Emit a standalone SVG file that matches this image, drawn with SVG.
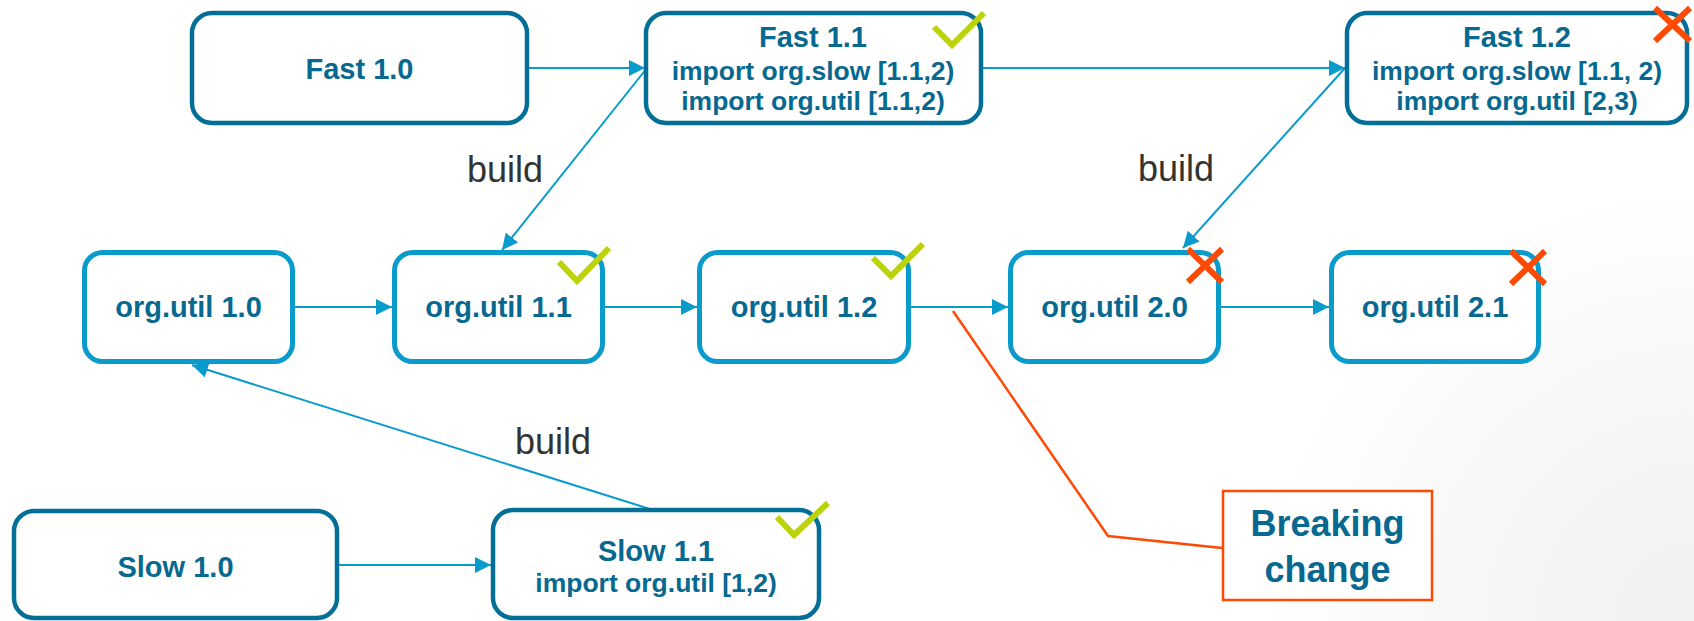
<svg xmlns="http://www.w3.org/2000/svg" width="1694" height="621" viewBox="0 0 1694 621">
  <defs>
    <radialGradient id="cornerShade" cx="1694" cy="621" r="440" gradientUnits="userSpaceOnUse">
      <stop offset="0" stop-color="#f0f0f0"/>
      <stop offset="0.55" stop-color="#f7f7f7"/>
      <stop offset="1" stop-color="#ffffff"/>
    </radialGradient>
    <marker id="arrow" viewBox="0 0 16 16" refX="16" refY="8" markerWidth="16" markerHeight="16" markerUnits="userSpaceOnUse" orient="auto">
      <path d="M0,0 L16,8 L0,16 z" fill="#0a9bcd"/>
    </marker>
    <style>
      .app { fill: #ffffff; stroke: #036f97; stroke-width: 4.5; }
      .lib { fill: #ffffff; stroke: #0a9bcd; stroke-width: 5; }
      .title { font-family: "Liberation Sans", Arial, sans-serif; font-weight: bold; font-size: 29px; fill: #07698f; text-anchor: middle; }
      .imp { font-family: "Liberation Sans", Arial, sans-serif; font-weight: bold; font-size: 26.5px; fill: #07698f; text-anchor: middle; }
      .label { font-family: "Liberation Sans", Arial, sans-serif; font-size: 36px; fill: #333333; }
      .edge { stroke: #0a9bcd; stroke-width: 2; fill: none; marker-end: url(#arrow); }
      .ok { stroke: #bcd30c; stroke-width: 6; fill: none; stroke-linecap: butt; stroke-linejoin: miter; }
      .bad { stroke: #ff4a06; stroke-width: 6; fill: none; }
      .note { fill: #ffffff; stroke: #ff4a06; stroke-width: 2.5; }
      .noteText { font-family: "Liberation Sans", Arial, sans-serif; font-weight: bold; font-size: 36px; fill: #07698f; text-anchor: middle; }
    </style>
  </defs>

  <!-- background with a soft shade in the lower right -->
  <rect x="0" y="0" width="1694" height="621" fill="#ffffff"/>
  <rect x="0" y="0" width="1694" height="621" fill="url(#cornerShade)"/>

  <!-- connectors -->
  <g id="connectors">
    <line class="edge" x1="529" y1="68" x2="645" y2="68"/>
    <line class="edge" x1="983" y1="68" x2="1345" y2="68"/>
    <line class="edge" x1="647" y1="68" x2="502" y2="250"/>
    <line class="edge" x1="1345" y1="68" x2="1183" y2="248"/>
    <line class="edge" x1="295" y1="307" x2="392" y2="307"/>
    <line class="edge" x1="605" y1="307" x2="697" y2="307"/>
    <line class="edge" x1="911" y1="307" x2="1008" y2="307"/>
    <line class="edge" x1="1221" y1="307" x2="1329" y2="307"/>
    <line class="edge" x1="339" y1="565" x2="491" y2="565"/>
    <line class="edge" x1="653" y1="510" x2="192" y2="365"/>
    <text class="label" x="467" y="182">build</text>
    <text class="label" x="1138" y="181">build</text>
    <text class="label" x="515" y="454">build</text>
    <polyline points="953,311 1108,536 1222,548" fill="none" stroke="#ff4a06" stroke-width="2.5"/>
  </g>

  <!-- application releases -->
  <g id="fast-1-0">
    <rect class="app" x="192" y="13" width="335" height="110" rx="20"/>
    <text class="title" x="359.5" y="79">Fast 1.0</text>
  </g>
  <g id="fast-1-1">
    <rect class="app" x="646" y="13" width="335" height="110" rx="20"/>
    <text class="title" x="813" y="47">Fast 1.1</text>
    <text class="imp" x="813" y="79.5">import org.slow [1.1,2)</text>
    <text class="imp" x="813" y="110">import org.util [1.1,2)</text>
    <polyline class="ok" points="934,27 952,45 984,13"/>
  </g>
  <g id="fast-1-2">
    <rect class="app" x="1347" y="13" width="340" height="110" rx="20"/>
    <text class="title" x="1517" y="47">Fast 1.2</text>
    <text class="imp" x="1517" y="79.5">import org.slow [1.1, 2)</text>
    <text class="imp" x="1517" y="110">import org.util [2,3)</text>
    <path class="bad" d="M1655,8 L1690,41 M1690,8 L1655,41"/>
  </g>
  <g id="slow-1-0">
    <rect class="app" x="14" y="511" width="323" height="107" rx="20"/>
    <text class="title" x="175.5" y="577">Slow 1.0</text>
  </g>
  <g id="slow-1-1">
    <rect class="app" x="493" y="510" width="326" height="108" rx="20"/>
    <text class="title" x="656" y="561">Slow 1.1</text>
    <text class="imp" x="656" y="592">import org.util [1,2)</text>
    <polyline class="ok" points="777,517 794,535 828,503"/>
  </g>

  <!-- library releases -->
  <g id="org-util-1-0">
    <rect class="lib" x="84.5" y="252.5" width="208" height="109" rx="18"/>
    <text class="title" x="188.5" y="317">org.util 1.0</text>
  </g>
  <g id="org-util-1-1">
    <rect class="lib" x="394.5" y="252.5" width="208" height="109" rx="18"/>
    <text class="title" x="498.5" y="317">org.util 1.1</text>
    <polyline class="ok" points="559,262 577,281 609,248"/>
  </g>
  <g id="org-util-1-2">
    <rect class="lib" x="699.5" y="252.5" width="209" height="109" rx="18"/>
    <text class="title" x="804" y="317">org.util 1.2</text>
    <polyline class="ok" points="873,258 891,276 923,244"/>
  </g>
  <g id="org-util-2-0">
    <rect class="lib" x="1010.5" y="252.5" width="208" height="109" rx="18"/>
    <text class="title" x="1114.5" y="317">org.util 2.0</text>
    <path class="bad" d="M1188,249 L1222,282 M1222,249 L1188,282"/>
  </g>
  <g id="org-util-2-1">
    <rect class="lib" x="1331.5" y="252.5" width="207" height="109" rx="18"/>
    <text class="title" x="1435" y="317">org.util 2.1</text>
    <path class="bad" d="M1511,251 L1545,284 M1545,251 L1511,284"/>
  </g>

  <!-- callout -->
  <g id="breaking-change">
    <rect class="note" x="1223" y="491" width="209" height="109"/>
    <text class="noteText" x="1327.5" y="536">Breaking</text>
    <text class="noteText" x="1327.5" y="582">change</text>
  </g>
</svg>
